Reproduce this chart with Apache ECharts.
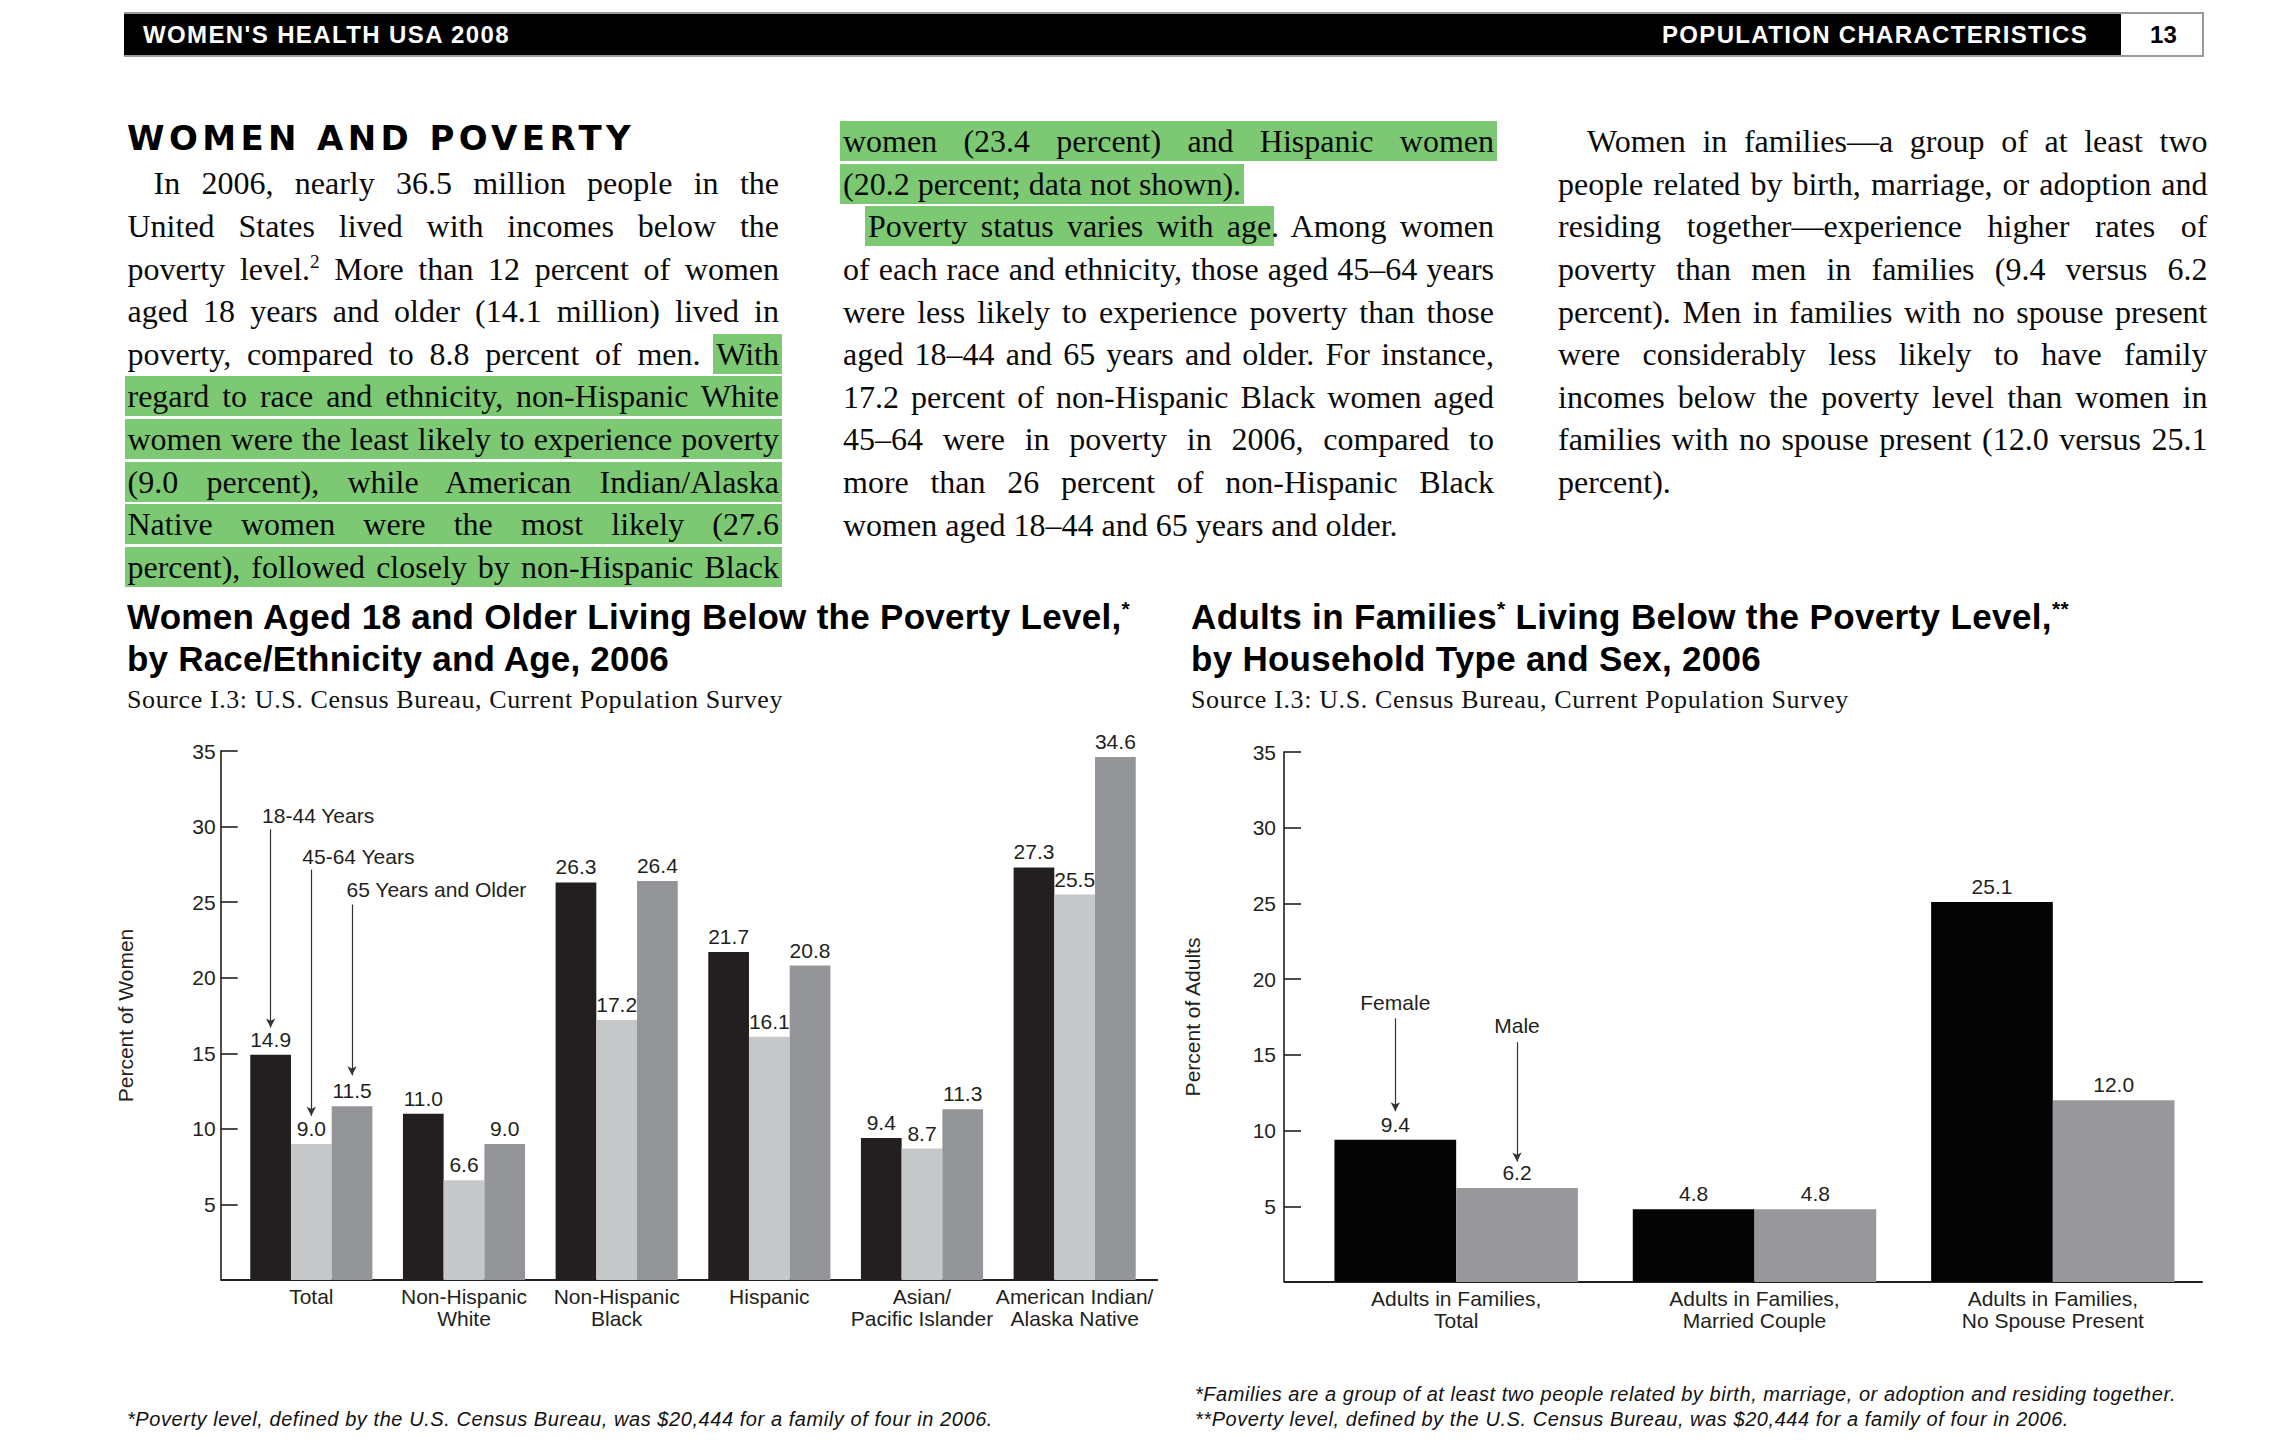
<!DOCTYPE html>
<html><head><meta charset="utf-8">
<script src="https://cdn.jsdelivr.net/npm/echarts@6/dist/echarts.min.js"></script>
<style>
html,body{margin:0;padding:0;background:#fff;}
#page{position:relative;width:2286px;height:1454px;overflow:hidden;background:#fff;}
#chart{position:absolute;left:0;top:0;width:2286px;height:1454px;z-index:1;}
.t{position:absolute;white-space:nowrap;z-index:2;color:#111;}
.sans{font-family:"Liberation Sans",Arial,Helvetica,sans-serif;}
.serif{font-family:"Liberation Serif","Times New Roman",serif;}
.line{position:absolute;height:42.6px;line-height:42.6px;font-family:"Liberation Serif","Times New Roman",serif;font-size:32px;text-align:justify;text-align-last:justify;z-index:2;color:#0a0a0a;white-space:normal;}
.line.last{text-align-last:left;}
.line.measure{text-align-last:left;white-space:nowrap;}
.hl{background:#7dc873;padding:2px 3px;margin:0 -3px;}
sup{font-size:60%;vertical-align:baseline;position:relative;top:-0.6em;}
</style></head>
<body><div id="page">
<div id="chart"></div>

<!-- header -->
<div style="position:absolute;left:124px;top:12px;width:1997px;height:45px;background:#000;border-top:2px solid #9a9a9a;border-bottom:2px solid #9a9a9a;box-sizing:border-box;z-index:2"></div>
<div style="position:absolute;left:2121px;top:12px;width:83px;height:45px;background:#fff;border:2px solid #9a9a9a;border-left:none;box-sizing:border-box;z-index:2"></div>
<div class="t sans fit" data-w="367" style="left:143px;top:20px;line-height:30px;font-size:24px;font-weight:bold;color:#fff">WOMEN'S HEALTH USA 2008</div>
<div class="t sans fit" data-w="426" style="left:1662px;top:20px;line-height:30px;font-size:24px;font-weight:bold;color:#fff">POPULATION CHARACTERISTICS</div>
<div class="t sans fit" data-w="27" style="left:2150px;top:20px;line-height:30px;font-size:24px;font-weight:bold;color:#000">13</div>

<div class="t fit" data-w="508" style="left:127px;top:118px;line-height:40px;font-size:34px;font-weight:bold;font-family:'DejaVu Sans',sans-serif;color:#000">WOMEN AND POVERTY</div>

<div id="body"></div>

<!-- chart titles -->
<div class="t sans fit" data-w="1003" style="left:127px;top:597px;line-height:40px;font-size:35px;font-weight:bold;color:#000">Women Aged 18 and Older Living Below the Poverty Level,<sup>*</sup></div>
<div class="t sans fit" data-w="542" style="left:127px;top:639px;line-height:40px;font-size:35px;font-weight:bold;color:#000">by Race/Ethnicity and Age, 2006</div>
<div class="t serif fit" data-w="656" style="left:127px;top:684px;line-height:32px;font-size:26px;color:#111">Source I.3: U.S. Census Bureau, Current Population Survey</div>

<div class="t sans fit" data-w="878" style="left:1191px;top:597px;line-height:40px;font-size:35px;font-weight:bold;color:#000">Adults in Families<sup>*</sup> Living Below the Poverty Level,<sup>**</sup></div>
<div class="t sans fit" data-w="570" style="left:1191px;top:639px;line-height:40px;font-size:35px;font-weight:bold;color:#000">by Household Type and Sex, 2006</div>
<div class="t serif fit" data-w="658" style="left:1191px;top:684px;line-height:32px;font-size:26px;color:#111">Source I.3: U.S. Census Bureau, Current Population Survey</div>

<!-- footnotes -->
<div class="t sans fit" data-w="866" style="left:127px;top:1406px;line-height:26px;font-size:20px;font-style:italic;color:#111">*Poverty level, defined by the U.S. Census Bureau, was $20,444 for a family of four in 2006.</div>
<div class="t sans fit" data-w="981" style="left:1195px;top:1381px;line-height:26px;font-size:20px;font-style:italic;color:#111">*Families are a group of at least two people related by birth, marriage, or adoption and residing together.</div>
<div class="t sans fit" data-w="874" style="left:1195px;top:1406px;line-height:26px;font-size:20px;font-style:italic;color:#111">**Poverty level, defined by the U.S. Census Bureau, was $20,444 for a family of four in 2006.</div>
</div>

<script>
// ---------------- DATA ----------------
const raceCategories = ['Total', 'Non-Hispanic\nWhite', 'Non-Hispanic\nBlack', 'Hispanic', 'Asian/\nPacific Islander', 'American Indian/\nAlaska Native'];
const age18to44 = [14.9, 11.0, 26.3, 21.7, 9.4, 27.3];
const age45to64 = [9.0, 6.6, 17.2, 16.1, 8.7, 25.5];
const age65plus = [11.5, 9.0, 26.4, 20.8, 11.3, 34.6];

const householdCategories = ['Adults in Families,\nTotal', 'Adults in Families,\nMarried Couple', 'Adults in Families,\nNo Spouse Present'];
const female = [9.4, 4.8, 25.1];
const male = [6.2, 4.8, 12.0];

const yMin = 0, yMax = 35, yInterval = 5;

// ---------------- BODY TEXT ----------------
const columns = [
  {left:127.5, width:651.5, top:183.7, lines:[
    {t:'In 2006, nearly 36.5 million people in the', ind:26},
    {t:'United States lived with incomes below the'},
    {t:'poverty level.<sup>2</sup> More than 12 percent of women'},
    {t:'aged 18 years and older (14.1 million) lived in'},
    {t:'poverty, compared to 8.8 percent of men. <span class="hl">With</span>'},
    {t:'<span class="hl">regard to race and ethnicity, non-Hispanic White</span>'},
    {t:'<span class="hl">women were the least likely to experience poverty</span>'},
    {t:'<span class="hl">(9.0 percent), while American Indian/Alaska</span>'},
    {t:'<span class="hl">Native women were the most likely (27.6</span>'},
    {t:'<span class="hl">percent), followed closely by non-Hispanic Black</span>'}
  ]},
  {left:843, width:651, top:141.4, lines:[
    {t:'<span class="hl">women (23.4 percent) and Hispanic women</span>'},
    {t:'<span class="hl">(20.2 percent; data not shown).</span>', last:true},
    {t:'<span class="hl">Poverty status varies with age</span>. Among women', ind:25},
    {t:'of each race and ethnicity, those aged 45–64 years'},
    {t:'were less likely to experience poverty than those'},
    {t:'aged 18–44 and 65 years and older. For instance,'},
    {t:'17.2 percent of non-Hispanic Black women aged'},
    {t:'45–64 were in poverty in 2006, compared to'},
    {t:'more than 26 percent of non-Hispanic Black'},
    {t:'women aged 18–44 and 65 years and older.', last:true}
  ]},
  {left:1558, width:649.5, top:141.4, lines:[
    {t:'Women in families—a group of at least two', ind:29},
    {t:'people related by birth, marriage, or adoption and'},
    {t:'residing together—experience higher rates of'},
    {t:'poverty than men in families (9.4 versus 6.2'},
    {t:'percent). Men in families with no spouse present'},
    {t:'were considerably less likely to have family'},
    {t:'incomes below the poverty level than women in'},
    {t:'families with no spouse present (12.0 versus 25.1'},
    {t:'percent).', last:true}
  ]}
];
const LINE_H = 42.6;
const bodyEl = document.getElementById('body');
columns.forEach(col => {
  col.lines.forEach((ln, i) => {
    const d = document.createElement('div');
    d.className = 'line measure';
    const ind = ln.ind || 0;
    const w = col.width - ind;
    d.style.left = (col.left + ind) + 'px';
    d.style.width = w + 'px';
    d.style.top = (col.top + i * LINE_H - LINE_H / 2) + 'px';
    const inner = document.createElement('span');
    inner.innerHTML = ln.t;
    d.appendChild(inner);
    bodyEl.appendChild(d);
    const nat = inner.getBoundingClientRect().width;
    if (nat > w - 2) {
      const n = inner.textContent.length;
      d.style.letterSpacing = ((w - 2 - nat) / n) + 'px';
    }
    d.className = 'line' + (ln.last ? ' last' : '');
  });
});

// fit single-line texts to their measured widths
document.querySelectorAll('.fit').forEach(el => {
  el.style.letterSpacing = '0px';
  const w = el.getBoundingClientRect().width;
  const n = el.textContent.length;
  el.style.letterSpacing = ((+el.dataset.w - w) / n) + 'px';
});

// ---------------- CHART ----------------
const FONT = '"Liberation Sans", Arial, Helvetica, sans-serif';
const INK = '#231f20';
const G1 = {left:235, top:751, width:916, height:529};
const G2 = {left:1307, top:752, width:895, height:530};
const OFF1 = 14.3, OFF2 = 23;

const chart = echarts.init(document.getElementById('chart'), null, {renderer:'svg'});

const valueLabel = {show:true, position:'top', distance:5, fontSize:21, color:INK, fontFamily:FONT,
  formatter: p => Number(p.value).toFixed(1)};

function annotText(text, coord, pos, align) {
  return {coord, value:0, label:{show:true, formatter:text, position:pos, align:align, verticalAlign:'middle',
    fontSize:21, color:INK, fontFamily:FONT}};
}
const markPointBase = {silent:true, symbol:'rect', symbolSize:1, itemStyle:{color:'rgba(0,0,0,0)'}, animation:false};
const markLineBase = {silent:true, symbol:['none','arrow'], symbolSize:[7,9], animation:false,
  lineStyle:{color:'#333', width:1.2, type:'solid'}, label:{show:false}, emphasis:{disabled:true}};

function bar(name, data, color, idx, gap, extra) {
  return Object.assign({
    type:'bar', name, data, xAxisIndex:idx, yAxisIndex:idx,
    itemStyle:{color}, barGap:'0%', barCategoryGap:gap,
    label:valueLabel, emphasis:{disabled:true}, animation:false
  }, extra || {});
}

function yAxis(idx, offset, name, nameGap, margin, nameSize) {
  return {
    type:'value', gridIndex:idx, min:yMin, max:yMax, interval:yInterval, offset,
    name, nameLocation:'middle', nameGap, nameRotate:90,
    nameTextStyle:{fontSize:nameSize, color:INK, fontFamily:FONT},
    axisLine:{show:true, lineStyle:{color:INK, width:1.6}},
    axisTick:{show:true, inside:true, length:17, lineStyle:{color:INK, width:1.6}},
    axisLabel:{showMinLabel:false, fontSize:21, color:INK, fontFamily:FONT, margin},
    splitLine:{show:false}
  };
}
function xAxis(idx, cats) {
  return {
    type:'category', gridIndex:idx, data:cats,
    axisLine:{show:true, onZero:false, lineStyle:{color:INK, width:2}},
    axisTick:{show:false},
    axisLabel:{interval:0, fontSize:21, lineHeight:22, margin:5, color:INK, fontFamily:FONT}
  };
}

const axisExt = {stroke:INK, lineWidth:2};
const option = {
  backgroundColor:'transparent',
  animation:false,
  textStyle:{fontFamily:FONT},
  grid:[
    Object.assign({containLabel:false}, G1),
    Object.assign({containLabel:false}, G2)
  ],
  xAxis:[xAxis(0, raceCategories), xAxis(1, householdCategories)],
  yAxis:[yAxis(0, OFF1, 'Percent of Women', 85, 5, 21), yAxis(1, OFF2, 'Percent of Adults', 81, 8, 21)],
  graphic:[
    {type:'line', silent:true, shape:{x1:G1.left-OFF1, y1:G1.top+G1.height, x2:G1.left, y2:G1.top+G1.height}, style:axisExt},
    {type:'line', silent:true, shape:{x1:G1.left+G1.width-1, y1:G1.top+G1.height, x2:G1.left+G1.width+7, y2:G1.top+G1.height}, style:axisExt},
    {type:'line', silent:true, shape:{x1:G2.left-OFF2, y1:G2.top+G2.height, x2:G2.left, y2:G2.top+G2.height}, style:axisExt}
  ],
  series:[
    bar('18-44 Years', age18to44, '#231f20', 0, '20%', {
      markLine:Object.assign({data:[[{coord:[0, 29.82]}, {coord:[0, 16.7]}]]}, markLineBase),
      markPoint:Object.assign({data:[annotText('18-44 Years', [0, 30.67], [-8, 0], 'left')]}, markPointBase)
    }),
    bar('45-64 Years', age45to64, '#c6c7c9', 0, '20%', {
      markLine:Object.assign({data:[[{coord:[0, 27.15]}, {coord:[0, 10.86]}]]}, markLineBase),
      markPoint:Object.assign({data:[annotText('45-64 Years', [0, 28.0], [-8.5, 0], 'left')]}, markPointBase)
    }),
    bar('65 Years and Older', age65plus, '#939598', 0, '20%', {
      markLine:Object.assign({data:[[{coord:[0, 24.84]}, {coord:[0, 13.54]}]]}, markLineBase),
      markPoint:Object.assign({data:[annotText('65 Years and Older', [0, 25.81], [-5, 0], 'left')]}, markPointBase)
    }),
    bar('Female', female, '#050505', 1, '18.4%', {
      markLine:Object.assign({data:[[{coord:[0, 17.41]}, {coord:[0, 11.28]}]]}, markLineBase),
      markPoint:Object.assign({data:[annotText('Female', [0, 18.43], 'inside', 'center')]}, markPointBase)
    }),
    bar('Male', male, '#98989c', 1, '18.4%', {
      markLine:Object.assign({data:[[{coord:[0, 15.84]}, {coord:[0, 7.96]}]]}, markLineBase),
      markPoint:Object.assign({data:[annotText('Male', [0, 16.93], 'inside', 'center')]}, markPointBase)
    })
  ]
};
chart.setOption(option);
</script>
</body></html>
